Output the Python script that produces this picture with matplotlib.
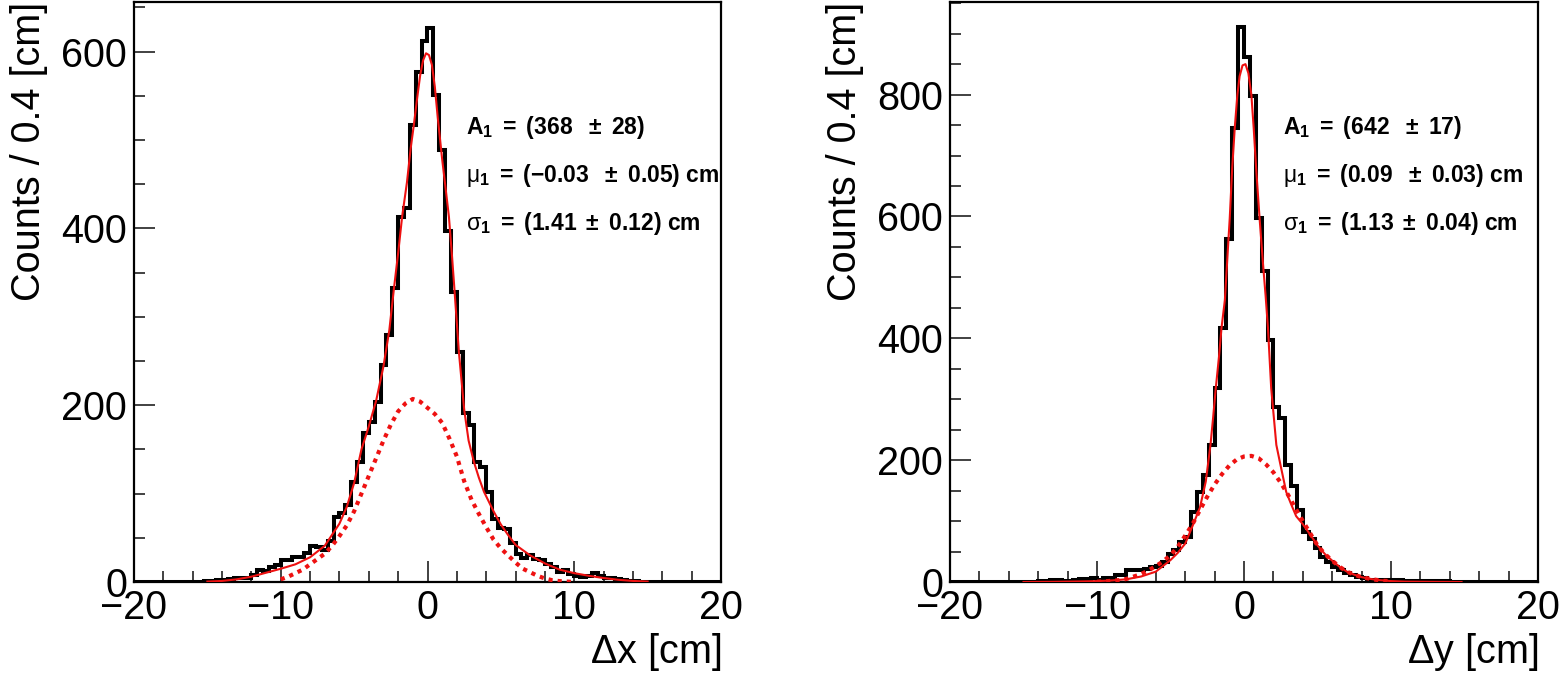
import numpy as np
import matplotlib
matplotlib.use("Agg")
import matplotlib.pyplot as plt
from matplotlib.ticker import MultipleLocator

plt.rcParams['font.family'] = ['Liberation Sans', 'DejaVu Sans']
plt.rcParams['mathtext.fontset'] = 'custom'
plt.rcParams['mathtext.rm'] = 'Liberation Sans'
plt.rcParams['mathtext.bf'] = 'Liberation Sans:bold'
plt.rcParams['mathtext.it'] = 'Liberation Sans:italic'

# ---------------- data ----------------
bin_lo, bin_hi, bin_width = -20.0, 20.0, 0.4

# left panel: Delta x histogram (100 bins of 0.4 cm from -20 to 20)
counts_dx = [
    0, 0, 0, 0, 0, 0, 0, 0, 0, 0,
    0, 0, 1, 1, 2, 2, 3, 4, 4, 5,
    8, 14, 12, 17, 19, 25, 25, 28, 28, 33,
    41, 40, 36, 46, 74, 78, 87, 113, 136, 168,
    181, 204, 245, 279, 332, 413, 423, 517, 577, 612,
    627, 551, 489, 397, 328, 260, 191, 178, 136, 130,
    102, 71, 61, 60, 44, 32, 27, 30, 26, 25,
    20, 17, 11, 14, 9, 7, 6, 7, 10, 7,
    5, 4, 3, 2, 1, 1, 0, 0, 0, 0,
    0, 0, 0, 0, 0, 0, 0, 0, 0, 0,
]
# right panel: Delta y histogram
counts_dy = [
    0, 0, 0, 0, 0, 0, 0, 0, 0, 0,
    0, 0, 0, 0, 0, 1, 1, 4, 4, 2,
    2, 3, 5, 5, 6, 4, 6, 7, 11, 12,
    19, 20, 20, 21, 24, 27, 33, 46, 53, 66,
    74, 115, 148, 176, 225, 318, 417, 563, 745, 911,
    861, 798, 597, 510, 397, 288, 269, 192, 157, 118,
    82, 70, 55, 41, 33, 25, 19, 15, 11, 8,
    6, 4, 3, 3, 4, 4, 3, 2, 2, 2,
    1, 1, 1, 1, 1, 0, 0, 0, 0, 0,
    0, 0, 0, 0, 0, 0, 0, 0, 0, 0,
]

# fit curves (solid = total fit, dotted = wide component)
fit_dx_x = [-15.0, -14.0, -13.0, -12.0, -11.0, -10.0, -9.0, -8.0, -7.0, -6.0,
            -5.5, -5.0, -4.5, -4.0, -3.5, -3.0, -2.6, -2.3, -2.0, -1.73,
            -1.4, -1.15, -0.93, -0.7, -0.5, -0.3, -0.1, 0.1, 0.3, 0.5,
            0.7, 1.0, 1.2, 1.46, 1.65, 1.84, 2.14, 2.5, 2.8, 3.16,
            3.5, 3.85, 4.5, 5.0, 5.5, 6.0, 7.0, 8.0, 9.0, 10.0,
            11.0, 12.0, 13.0, 14.0, 15.0]
fit_dx_y = [0.5, 1.2, 3, 6, 10.5, 15, 20, 28, 41, 66,
            85, 112, 150, 176, 205, 244, 285, 330, 372, 413,
            452, 490, 517, 548, 573, 590, 598, 596, 585, 560,
            525, 478, 450, 413, 373, 330, 260, 195, 160, 136,
            118, 102, 80, 65, 53, 42, 30, 21, 14, 10,
            7, 4.5, 2.5, 1.2, 0.5]
wide_dx_x = [-10.0, -9.5, -9.0, -8.5, -8.0, -7.5, -7.0, -6.5, -6.0, -5.5,
             -5.0, -4.5, -4.0, -3.5, -3.0, -2.5, -2.0, -1.5, -1.0, -0.5,
             0.0, 0.5, 1.0, 1.5, 2.0, 2.5, 3.0, 3.5, 4.0, 4.5,
             5.0, 5.5, 6.0, 6.5, 7.0, 7.5, 8.0, 8.5, 9.0, 9.5, 10.0]
wide_dx_y = [3, 6, 10, 14, 20, 26, 32, 41, 52, 64,
             80, 100, 120, 140, 160, 178, 193, 202, 207, 204,
             197, 190, 180, 162, 142, 114, 93, 77, 62, 48,
             38, 30, 22, 15, 11, 7, 4, 2, 1, 0.5, 0]

fit_dy_x = [-15.0, -13.0, -11.0, -10.0, -9.0, -8.0, -7.0, -6.0, -5.0, -4.5,
            -4.0, -3.5, -3.0, -2.6, -2.28, -2.1, -1.92, -1.7, -1.53, -1.3,
            -1.1, -0.97, -0.8, -0.63, -0.45, -0.3, -0.1, 0.1, 0.3, 0.5,
            0.66, 0.85, 1.06, 1.3, 1.47, 1.63, 1.85, 2.2, 2.5, 2.87,
            3.2, 3.55, 4.0, 4.5, 5.0, 5.5, 6.0, 6.5, 7.0, 7.5,
            8.0, 8.5, 9.0, 10.0, 11.0, 13.0, 14.8]
fit_dy_y = [0, 0.3, 1, 1.5, 2.5, 4.5, 9, 17, 36, 48,
            63, 92, 122, 165, 225, 270, 318, 370, 417, 463,
            545, 597, 680, 745, 800, 830, 848, 850, 835, 800,
            745, 670, 597, 520, 470, 417, 318, 225, 190, 148,
            128, 108, 95, 78, 60, 46, 35, 25, 17, 12,
            8, 5.5, 3.5, 1.5, 0.6, 0.2, 0]
wide_dy_x = [-10.0, -9.5, -9.0, -8.5, -8.0, -7.5, -7.0, -6.5, -6.0, -5.5,
             -5.0, -4.5, -4.0, -3.5, -3.0, -2.5, -2.0, -1.5, -1.0, -0.5,
             0.0, 0.5, 1.0, 1.5, 2.0, 2.5, 3.0, 3.5, 4.0, 4.5,
             5.0, 5.5, 6.0, 6.5, 7.0, 7.5, 8.0, 8.5, 9.0, 9.5, 10.0]
wide_dy_y = [0.5, 1, 2, 3, 5, 9, 13, 19, 26, 34,
             44, 58, 76, 95, 118, 140, 160, 177, 191, 201,
             206, 207, 203, 193, 180, 163, 143, 121, 100, 80,
             60, 46, 35, 25, 17, 12, 8, 5.5, 3.5, 2, 1.5]

labels_dx = [r"$\mathbf{A_{1}\ =\ (368\ \ \pm\ 28)}$",
             r"$\mathrm{\mu}_{\mathbf{1}}\mathbf{\ =\ (-0.03\ \ \pm\ 0.05)\ cm}$",
             r"$\mathrm{\sigma}_{\mathbf{1}}\mathbf{\ =\ (1.41\ \pm\ 0.12)\ cm}$"]
labels_dy = [r"$\mathbf{A_{1}\ =\ (642\ \ \pm\ 17)}$",
             r"$\mathrm{\mu}_{\mathbf{1}}\mathbf{\ =\ (0.09\ \ \pm\ 0.03)\ cm}$",
             r"$\mathrm{\sigma}_{\mathbf{1}}\mathbf{\ =\ (1.13\ \pm\ 0.04)\ cm}$"]

panels = [
    dict(counts=counts_dx, fx=fit_dx_x, fy=fit_dx_y, wx=wide_dx_x, wy=wide_dx_y,
         ymax=656, xlabel=r"$\Delta$x [cm]", labels=labels_dx,
         rect=[134/1560, 95/677, 587/1560, 580/677]),
    dict(counts=counts_dy, fx=fit_dy_x, fy=fit_dy_y, wx=wide_dy_x, wy=wide_dy_y,
         ymax=952, xlabel=r"$\Delta$y [cm]", labels=labels_dy,
         rect=[950/1560, 95/677, 588/1560, 580/677]),
]

fig = plt.figure(figsize=(15.6, 6.77), dpi=100)
edges = np.arange(bin_lo, bin_hi + bin_width / 2, bin_width)

for p in panels:
    ax = fig.add_axes(p['rect'])
    ax.stairs(p['counts'], edges, color='black', lw=2.9, baseline=None, zorder=3)
    ax.plot(p['wx'], p['wy'], color='#ee1111', lw=3.0, dashes=(1, 1.2),
            dash_capstyle='butt', zorder=4)
    ax.plot(p['fx'], p['fy'], color='#ee1111', lw=1.5, zorder=5)
    ax.set_xlim(bin_lo, bin_hi)
    ax.set_ylim(0, p['ymax'])
    ax.xaxis.set_major_locator(MultipleLocator(10))
    ax.xaxis.set_minor_locator(MultipleLocator(2))
    ax.yaxis.set_major_locator(MultipleLocator(200))
    ax.yaxis.set_minor_locator(MultipleLocator(50))
    ax.tick_params(which='both', direction='in', top=False, right=False,
                   labelsize=28.5, width=1.3, color='#333333')
    ax.tick_params(which='major', length=15, pad=5)
    ax.tick_params(which='minor', length=8)
    for s in ax.spines.values():
        s.set_linewidth(1.6)
    ax.set_ylabel("Counts / 0.4 [cm]", fontsize=28.5, loc='top')
    ax.yaxis.set_label_coords(-0.147, 1.0)
    ax.set_xlabel(p['xlabel'], fontsize=28.5, loc='right')
    ax.xaxis.set_label_coords(1.0, -0.085)
    for i, t in enumerate(p['labels']):
        ax.text(0.566, 0.784 - 0.083 * i, t, transform=ax.transAxes,
                fontsize=16.5, ha='left', va='center')

fig.savefig("out.png", dpi=100)
